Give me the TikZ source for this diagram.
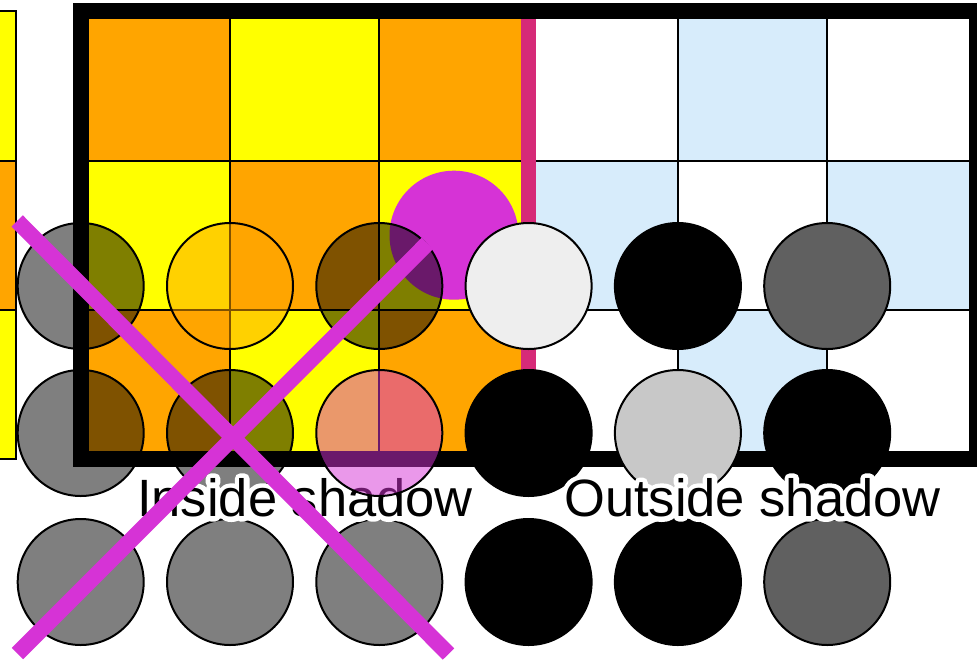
\documentclass[tikz,border=0pt]{standalone}
\usepackage{fontspec}
\setmainfont{Liberation Sans}
\newfontfamily\halofont[FakeBold=19]{Liberation Sans}

\definecolor{cellorange}{HTML}{FFA500}
\definecolor{cellyellow}{HTML}{FFFF00}
\definecolor{cellblue}{HTML}{D7ECFB}
\definecolor{edgepink}{HTML}{D62A78}
\definecolor{markmagenta}{HTML}{D633D6}
\definecolor{lightstone}{HTML}{EEEEEE}
\definecolor{midstone}{HTML}{C8C8C8}
\definecolor{darkstone}{HTML}{606060}

\begin{document}
\begin{tikzpicture}[
    x=1pt, y=-1pt,
    disc/.style={circle, draw, line width=2pt, minimum size=126pt, inner sep=0pt},
    faded/.style={disc, fill=black, fill opacity=0.5},
    gridline/.style={line width=2pt},
    xline/.style={markmagenta, line width=16pt},
    shadowlabel/.style={anchor=base, inner sep=0pt, font=\fontsize{52.5}{60}\selectfont},
    halolabel/.style={shadowlabel, text=white, line join=round, font=\halofont\fontsize{52.5}{60}\selectfont}
]
\useasboundingbox (0,0) rectangle (977,659);
\clip (0,0) rectangle (977,659);
\fill[white] (0,0) rectangle (977,659);

% Board cells
\fill[cellorange] (80.7,11.2) rectangle (230,160.5);
\fill[cellyellow] (230,11.2) rectangle (379.3,160.5);
\fill[cellorange] (379.3,11.2) rectangle (528.6,160.5);
\fill[cellblue] (677.9,11.2) rectangle (827.2,160.5);

\fill[cellyellow] (80.7,160.5) rectangle (230,309.8);
\fill[cellorange] (230,160.5) rectangle (379.3,309.8);
\fill[cellyellow] (379.3,160.5) rectangle (528.6,309.8);
\fill[cellblue] (528.6,160.5) rectangle (677.9,309.8);
\fill[cellblue] (827.2,160.5) rectangle (976.5,309.8);

\fill[cellorange] (80.7,309.8) rectangle (230,459.1);
\fill[cellyellow] (230,309.8) rectangle (379.3,459.1);
\fill[cellorange] (379.3,309.8) rectangle (528.6,459.1);
\fill[cellblue] (677.9,309.8) rectangle (827.2,459.1);

% Grid lines
\draw[gridline] (230,11.2) -- (230,459.1);
\draw[gridline] (379.3,11.2) -- (379.3,459.1);
\draw[gridline] (677.9,11.2) -- (677.9,459.1);
\draw[gridline] (827.2,11.2) -- (827.2,459.1);
\draw[gridline] (80.7,160.5) -- (976.5,160.5);
\draw[gridline] (80.7,309.8) -- (976.5,309.8);

% Left strip
\filldraw[gridline, fill=cellyellow] (-140,11.2) rectangle (16,160.5);
\filldraw[gridline, fill=cellorange] (-140,160.5) rectangle (16,309.8);
\filldraw[gridline, fill=cellyellow] (-140,309.8) rectangle (16,459.1);

% Spot and edge
\node[circle, fill=markmagenta, minimum size=129pt, inner sep=0pt] (spot) at (454,235.2) {};
\draw[edgepink, line width=15pt] (528.6,11.2) -- (528.6,459.1);

% Border
\draw[line width=16pt] (80.7,11.2) rectangle (976.5,459.1);

% Outside stones
\node[disc, fill=lightstone] (r1c4) at (528.6,286) {};
\node[disc, fill=black] (r1c5) at (677.9,286) {};
\node[disc, fill=darkstone] (r1c6) at (827.2,286) {};
\node[disc, fill=black] (r2c4) at (528.6,433) {};
\node[disc, fill=midstone] (r2c5) at (677.9,433) {};
\node[disc, fill=black] (r2c6) at (827.2,433) {};
\node[disc, fill=black] (r3c4) at (528.6,582) {};
\node[disc, fill=black] (r3c5) at (677.9,582) {};
\node[disc, fill=darkstone] (r3c6) at (827.2,582) {};

% Inside stones
\node[faded] (r1c1) at (80.7,286) {};
\node[disc, fill=cellorange, fill opacity=0.5] (r1c2) at (230,286) {};
\node[faded] (r1c3) at (379.3,286) {};
\node[faded] (r2c1) at (80.7,433) {};
\node[faded] (r2c2) at (230,433) {};
\node[faded] (r3c1) at (80.7,582) {};
\node[faded] (r3c2) at (230,582) {};
\node[faded] (r3c3) at (379.3,582) {};

% Labels
\node[halolabel] (insidehalo) at (305,516.5) {Inside shadow};
\node[halolabel] (outsidehalo) at (752.4,516.5) {Outside shadow};
\node[shadowlabel] (inside) at (305,516.5) {Inside shadow};
\node[shadowlabel] (outside) at (752.4,516.5) {Outside shadow};

\node[disc, fill=markmagenta, fill opacity=0.5] (r2c3) at (379.3,433) {};

% Cross
\draw[xline] (17.2,221) -- (448.5,654);
\draw[xline] (17.5,653.5) -- (427.5,243.3);

\end{tikzpicture}
\end{document}
